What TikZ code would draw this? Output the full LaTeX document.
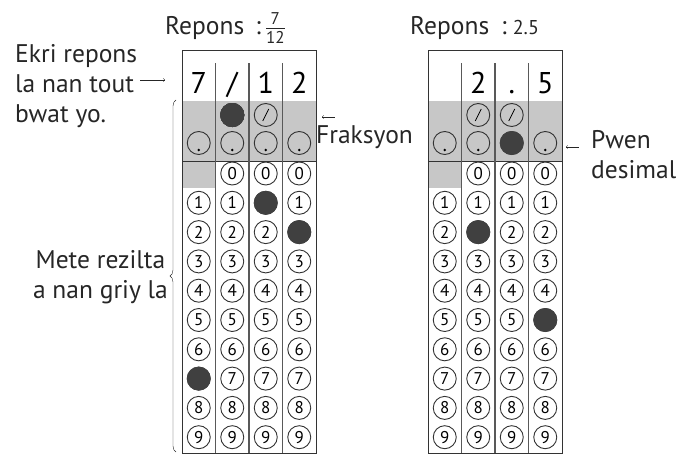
\documentclass[tikz,border=0pt]{standalone}
\usepackage{fontspec}
\setmainfont{PT Sans}
\usetikzlibrary{decorations.pathreplacing}
\tikzset{
  bubble/.style={circle, draw=black!80, line width=0.9pt, minimum size=23pt, inner sep=0pt,
    font=\fontsize{17}{17}\selectfont},
  filled/.style={circle, fill=black!75, minimum size=24pt, inner sep=0pt},
  big digit/.style={font=\fontsize{30}{30}\selectfont, anchor=base},
  words/.style={font=\fontsize{25.5}{30}\selectfont, text=black!85, inner sep=0pt},
  grid line/.style={draw=black!80, line width=0.8pt},
  col line/.style={draw=black!65, line width=1.4pt},
}
\newcommand{\slashmark}[1]{\draw[line width=0.8pt] ([shift={(-3,6)}]#1.center) -- ([shift={(3,-6)}]#1.center);}
\newcommand{\dotmark}[1]{\fill ([yshift=-7pt]#1.center) circle (1.3pt);}
\newcommand{\fracnum}[1]{\hbox{\fontsize{17}{17}\selectfont #1}}
\begin{document}
\begin{tikzpicture}[x=1pt,y=-1pt]
    \useasboundingbox (0,0) rectangle (691,455);
    % Grilles
    \foreach \g/\gx in {L/182,R/428}{
        \fill[black!22] (\gx,101) rectangle (\gx+134,161);
        \fill[black!22] (\gx,161) rectangle (\gx+33.5,188);
        \draw[grid line] (\gx,50) rectangle (\gx+134,453);
        \draw[grid line] (\gx,161) -- (\gx+134,161);
        \foreach \c in {1,2,3}
            \draw[col line] (\gx+33.5*\c,63) -- (\gx+33.5*\c,453);
        % Bulles des chiffres
        \foreach \c in {1,...,4}{
            \foreach \r in {0,...,9}{
                \ifnum\c=1 \ifnum\r=0 \else
                    \node[bubble] (\g-\c-\r) at (\gx+33.5*\c-16.75,173.5+29.3*\r) {\r};
                \fi \else
                    \node[bubble] (\g-\c-\r) at (\gx+33.5*\c-16.75,173.5+29.3*\r) {\r};
                \fi
            }
            \node[bubble] (\g-\c-dot) at (\gx+33.5*\c-16.75,143) {};
        }
    }
    % Bulles des barres et des points
    \foreach \b/\bx in {L-3/265.75,R-2/478.25,R-3/511.75}{
        \node[bubble] (\b-slash) at (\bx,115) {};
        \slashmark{\b-slash}
    }
    \foreach \b in {L-1,L-2,L-3,L-4,R-1,R-2,R-4}
        \dotmark{\b-dot}
    \node[filled] (L-2-slash) at (232.25,115) {};
    % Bulles remplies
    \node[filled] at (L-1-7) {};
    \node[filled] at (L-3-1) {};
    \node[filled] at (L-4-2) {};
    \node[filled] at (R-3-dot) {};
    \node[filled] at (R-2-2) {};
    \node[filled] at (R-4-5) {};
    % Chiffres ecrits
    \node[big digit] (L-h1) at (198.75,93) {7};
    \node[big digit] (L-h2) at (232.25,93) {/};
    \node[big digit] (L-h3) at (265.75,93) {1};
    \node[big digit] (L-h4) at (299.25,93) {2};
    \node[big digit] (R-h2) at (478.25,93) {2};
    \node[big digit] (R-h3) at (511.75,93) {.};
    \node[big digit] (R-h4) at (545.25,93) {5};
    % Titres
    \node[words, anchor=west] (rep-L) at (165,28) {Repons\, :\hspace{4pt}$\frac{\fracnum{7}}{\fracnum{12}}$};
    \node[words, anchor=west] (rep-R) at (410,28) {Repons\hspace{12pt}:\hspace{6pt}{\fontsize{20}{20}\selectfont 2.5}};
    % Notes
    \node[words, anchor=north west, align=left] (ekri) at (15,44) {Ekri repons\\la nan tout\\bwat yo.};
    \coordinate (ekri-a) at (140,80);
    \coordinate (ekri-b) at (165,80);
    \draw[->, black!85] (ekri-a) -- (ekri-b);
    \node[words, anchor=west] (frak) at (316,137) {Fraksyon};
    \coordinate (frak-a) at (322,117);
    \coordinate (frak-b) at (335,117);
    \draw[<-, black!85] (frak-a) -- (frak-b);
    \node[words, anchor=north west, align=left] (pwen) at (591,130) {Pwen\\desimal};
    \coordinate (pwen-a) at (566,147);
    \coordinate (pwen-b) at (579,147);
    \draw[<-, black!85] (pwen-a) -- (pwen-b);
    % Accolade
    \coordinate (acc-a) at (176,452);
    \coordinate (acc-b) at (176,100);
    \draw[decorate, decoration={brace, amplitude=6pt}, black!85] (acc-a) -- (acc-b);
    \node[words, anchor=east, align=center] (mete) at (168,277) {Mete rezilta\\a nan griy la};
\end{tikzpicture}
\end{document}
